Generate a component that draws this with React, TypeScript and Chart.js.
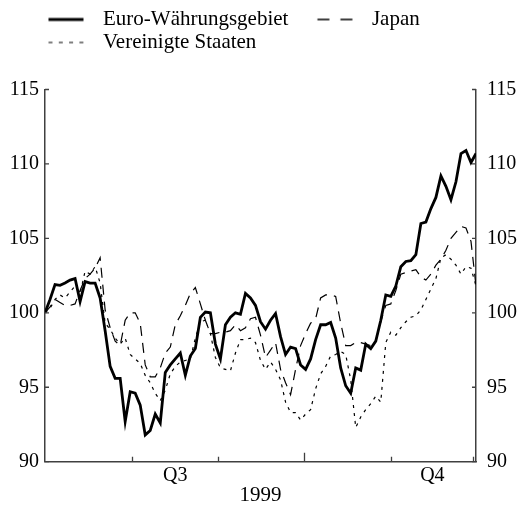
import React, { useEffect, useRef } from 'react';
import { Chart, registerables } from 'chart.js';

Chart.register(...registerables);

const EURO = [
  100.0, 100.9, 101.9, 101.85, 102.0, 102.2, 102.3, 100.75, 102.1, 102.0,
  102.0, 101.0, 98.8, 96.4, 95.6, 95.6, 92.7, 94.7, 94.6, 93.8,
  91.8, 92.1, 93.2, 92.6, 96.0, 96.5, 96.9, 97.3, 95.8, 97.1,
  97.6, 99.7, 100.05, 100.0, 97.9, 96.9, 99.2, 99.7, 100.0, 99.9,
  101.3, 101.0, 100.5, 99.4, 98.9, 99.5, 99.95, 98.4, 97.2, 97.7,
  97.6, 96.5, 96.2, 96.9, 98.2, 99.2, 99.2, 99.35, 98.3, 96.3,
  95.1, 94.6, 96.3, 96.15, 97.9, 97.6, 98.1, 99.5, 101.2, 101.1,
  101.8, 103.1, 103.45, 103.5, 103.9, 106.0, 106.1, 107.0, 107.75, 109.2,
  108.5, 107.6, 108.8, 110.7, 110.9, 110.1, 110.7,
];

const JAPAN = [
  100.0, 100.4, 100.9, 100.7, 100.5, 100.5, 100.6, 101.5, 102.3, 102.6,
  103.0, 103.7, 100.2, 99.0, 98.1, 97.8, 99.5, 100.0, 100.0, 99.3,
  96.5, 95.7, 95.7, 96.3, 97.3, 97.7, 99.2, 99.8, 100.5, 101.3,
  101.7, 100.6, 99.5, 98.6, 98.6, 98.7, 98.7, 98.8, 99.2, 98.8,
  99.0, 99.6, 99.7, 98.5, 97.0, 97.5, 98.0, 96.2, 95.3, 94.5,
  96.2, 97.8, 98.6, 99.3, 99.6, 101.0, 101.2, 101.2, 101.1, 99.3,
  97.8, 97.8, 98.0, 98.0, 97.9, 97.8, 98.1, 99.4, 100.5, 100.6,
  101.5, 102.6, 102.7, 102.8, 102.9, 102.4, 102.2, 102.6, 103.2, 103.6,
  104.2, 105.0, 105.4, 105.8, 105.7, 104.8, 101.8,
];

const USA = [
  100.0, 100.3, 100.9, 101.2, 101.0, 101.4, 101.8, 101.3, 102.8, 102.6,
  103.1, 102.0, 99.3, 98.9, 98.3, 97.9, 98.3, 97.2, 96.9, 96.6,
  95.8, 95.3, 94.6, 94.1, 94.8, 95.9, 96.4, 96.7, 96.8, 96.9,
  98.3, 99.4, 99.5, 98.6, 97.0, 96.3, 96.2, 96.1, 97.3, 98.2,
  98.2, 98.3, 98.0, 96.8, 96.2, 96.7, 96.2, 95.5, 94.0, 93.3,
  93.3, 92.8, 93.2, 93.5, 94.9, 95.9, 96.4, 97.1, 97.2, 97.4,
  97.2, 95.5, 92.3, 93.0, 93.5, 93.9, 94.4, 94.0, 98.0, 98.7,
  98.5, 99.0, 99.4, 99.7, 99.8, 100.2, 100.9, 101.6, 102.3, 103.7,
  103.9, 103.6, 103.2, 102.6, 103.1, 103.0, 101.8,
];

const SERIES_NAMES = ['Euro-Währungsgebiet', 'Japan', 'Vereinigte Staaten'];
const Y_TICKS = [90, 95, 100, 105, 110, 115];
const MONTH_TICKS = [17.3, 34.6, 51.6, 69.0, 85.5];
const QUARTER_POS = [26.0, 77.3];
const QUARTER_LABELS = ['Q3', 'Q4'];
const YEAR_LABEL = '1999';
const DAY_INDEX = EURO.map((_, i) => i);

const FONT = "'Liberation Serif', 'Times New Roman', Times, serif";
const AXIS_COLOR = '#404040';
const LEGEND_SHIFT = 19.5;

function legendImage(dash: number[], width: number): HTMLCanvasElement {
  const c = document.createElement('canvas');
  c.width = 60;
  c.height = 8;
  const g = c.getContext('2d')!;
  g.strokeStyle = '#000';
  g.lineWidth = width;
  g.setLineDash(dash);
  g.beginPath();
  g.moveTo(21.5, 4);
  g.lineTo(56.5, 4);
  g.stroke();
  return c;
}

const legendSpacing = {
  id: 'legendSpacing',
  beforeInit(chart: any) {
    const legend = chart.legend;
    if (!legend) return;
    const origFit = legend.fit;
    legend.fit = function () {
      origFit.call(this);
      this.height = 82.5;
    };
    const origDraw = legend.draw;
    legend.draw = function () {
      const ctx = this.ctx;
      ctx.save();
      ctx.translate(LEGEND_SHIFT, 0);
      origDraw.call(this);
      ctx.restore();
    };
  },
};

const tickMarks = {
  id: 'tickMarks',
  afterDraw(chart: any) {
    const { ctx, chartArea, scales } = chart;
    ctx.save();
    ctx.strokeStyle = AXIS_COLOR;
    ctx.lineWidth = 1.3;
    ctx.beginPath();
    MONTH_TICKS.forEach((v, i) => {
      const px = Math.round(scales.x.getPixelForValue(v)) + 0.5;
      const len = i === 2 ? 9 : 5;
      ctx.moveTo(px, chartArea.bottom);
      ctx.lineTo(px, chartArea.bottom - len);
    });
    Y_TICKS.forEach((v) => {
      const py = scales.y.getPixelForValue(v);
      ctx.moveTo(chartArea.left, py);
      ctx.lineTo(chartArea.left + 4, py);
      ctx.moveTo(chartArea.right, py);
      ctx.lineTo(chartArea.right - 4, py);
    });
    ctx.stroke();
    ctx.restore();
  },
};

export default function App() {
  const ref = useRef<HTMLCanvasElement | null>(null);

  useEffect(() => {
    document.body.style.margin = '0';
    if (!ref.current) return;
    const styles = [
      { data: EURO, width: 2.8, dash: [] as number[], legendDash: [] as number[], legendWidth: 3 },
      { data: JAPAN, width: 1.2, dash: [10, 7], legendDash: [12, 11], legendWidth: 1.3 },
      { data: USA, width: 1.2, dash: [3, 5], legendDash: [4, 6.3], legendWidth: 1.2 },
    ];
    const images = styles.map((s) => legendImage(s.legendDash, s.legendWidth));

    const chart = new Chart(ref.current, {
      type: 'line',
      data: {
        labels: DAY_INDEX,
        datasets: styles.map((s, i) => ({
          label: SERIES_NAMES[i],
          data: s.data,
          borderColor: '#000',
          backgroundColor: '#000',
          borderWidth: s.width,
          borderDash: s.dash,
          pointRadius: 0,
          tension: 0,
          fill: false,
          yAxisID: 'y',
        })),
      },
      options: {
        animation: false,
        responsive: false,
        layout: { padding: { left: 0, top: 7, right: 0, bottom: 0 } },
        plugins: {
          tooltip: { enabled: false },
          legend: {
            position: 'top',
            align: 'start',
            labels: {
              usePointStyle: true,
              pointStyleWidth: 71,
              padding: 2,
              color: '#000',
              font: { family: FONT, size: 21 },
              generateLabels: () =>
                SERIES_NAMES.map((name, i) => ({
                  text: name,
                  pointStyle: images[i] as any,
                  fillStyle: 'rgba(0,0,0,0)',
                  strokeStyle: '#000',
                  lineWidth: 0,
                  hidden: false,
                  datasetIndex: i,
                  fontColor: '#000',
                })),
            },
          },
        },
        scales: {
          x: {
            type: 'linear',
            min: 0,
            max: DAY_INDEX.length - 1,
            grid: { display: false, drawTicks: false },
            border: { display: true, color: AXIS_COLOR, width: 1.5 },
            afterBuildTicks: (s: any) => {
              s.ticks = QUARTER_POS.map((v) => ({ value: v }));
            },
            ticks: {
              autoSkip: false,
              maxRotation: 0,
              padding: 2,
              color: '#000',
              font: { family: FONT, size: 20 },
              callback: (_v: any, i: number) => QUARTER_LABELS[i],
            },
            title: {
              display: true,
              text: YEAR_LABEL,
              color: '#000',
              font: { family: FONT, size: 21, lineHeight: 1 },
              padding: { top: 0, bottom: 0 },
            },
            afterFit: (s: any) => {
              s.height = 44.3;
            },
          },
          y: {
            position: 'left',
            min: 90,
            max: 115,
            grid: { display: false, drawTicks: false },
            border: { display: true, color: AXIS_COLOR, width: 1.5 },
            ticks: {
              stepSize: 5,
              padding: 6,
              color: '#000',
              font: { family: FONT, size: 20 },
            },
            afterFit: (s: any) => {
              s.width = 45;
            },
          },
          y2: {
            position: 'right',
            min: 90,
            max: 115,
            grid: { display: false, drawTicks: false },
            border: { display: true, color: AXIS_COLOR, width: 1.5 },
            ticks: {
              stepSize: 5,
              padding: 11,
              color: '#000',
              font: { family: FONT, size: 20 },
            },
            afterFit: (s: any) => {
              s.width = 44;
            },
          },
        },
      } as any,
      plugins: [legendSpacing, tickMarks],
    });
    return () => chart.destroy();
  }, []);

  return (
    <div style={{ width: 520, height: 506 }}>
      <canvas ref={ref} width={520} height={506} style={{ display: 'block' }} />
    </div>
  );
}
